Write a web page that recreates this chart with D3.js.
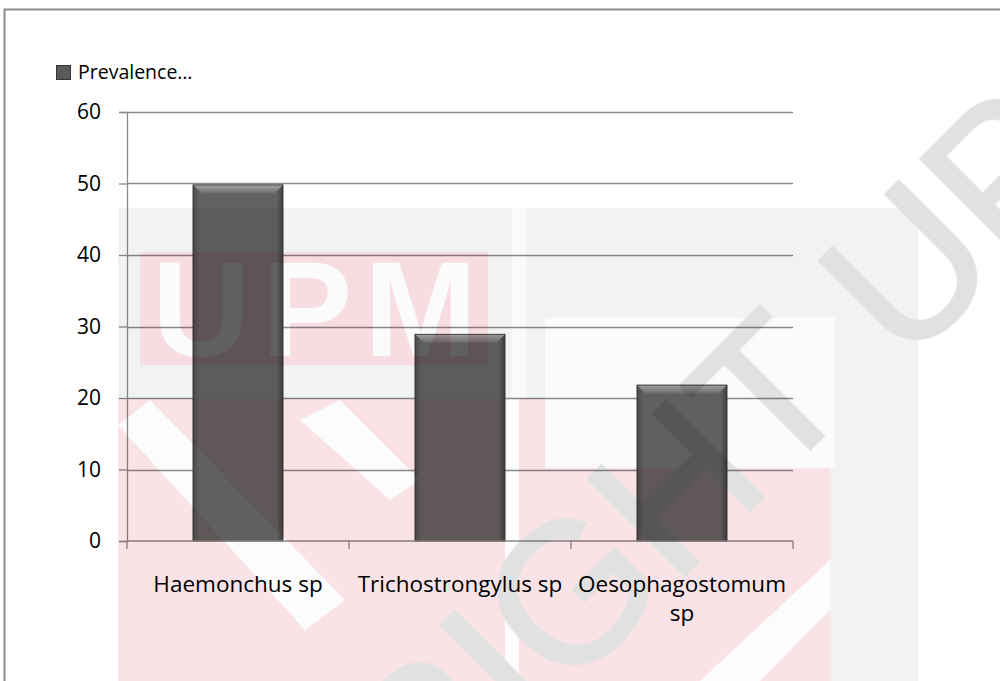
<!DOCTYPE html>
<html>
<head>
<meta charset="utf-8">
<script src="https://cdn.jsdelivr.net/npm/d3@7"></script>
<style>
  body { margin: 0; background: #fff; }
  svg text { font-family: "Open Sans", "Noto Sans", sans-serif; fill: #000; }
</style>
</head>
<body>
<svg width="1000" height="681"></svg>
<script>
// chart data
var categories = ["Haemonchus sp", "Trichostrongylus sp", "Oesophagostomum sp"];
var prevalence = [49.8, 28.9, 21.8];
var yTicks = [0, 10, 20, 30, 40, 50, 60];
var legendLabel = "Prevalence\u2026";

var svg = d3.select("svg");
var margin = {top: 112, right: 207, bottom: 140, left: 127};
var width = 1000 - margin.left - margin.right;   // 666
var height = 681 - margin.top - margin.bottom;   // 429

// outer frame (runs off the page on the right / bottom)
svg.append("rect")
    .attr("x", 4.5).attr("y", 9.5)
    .attr("width", 1100).attr("height", 800)
    .attr("fill", "none").attr("stroke", "#8c8c8c").attr("stroke-width", 2);

var defs = svg.append("defs");
var grad = defs.append("linearGradient").attr("id", "barFill")
    .attr("x1", 0).attr("x2", 1).attr("y1", 0).attr("y2", 0);
grad.append("stop").attr("offset", "0%").attr("stop-color", "#4c4c4c");
grad.append("stop").attr("offset", "7%").attr("stop-color", "#616161");
grad.append("stop").attr("offset", "93%").attr("stop-color", "#616161");
grad.append("stop").attr("offset", "100%").attr("stop-color", "#404040");
var bev = defs.append("linearGradient").attr("id", "bevel")
    .attr("x1", 0).attr("x2", 0).attr("y1", 0).attr("y2", 1);
bev.append("stop").attr("offset", "0%").attr("stop-color", "#a0a0a0");
bev.append("stop").attr("offset", "100%").attr("stop-color", "#6c6c6c");

var g = svg.append("g")
    .attr("transform", "translate(" + margin.left + "," + margin.top + ")");

var x = d3.scaleBand().domain(categories).range([0, width]).padding(0);
var y = d3.scaleLinear().domain([0, 60]).range([height, 0]);

// gridlines
g.selectAll(".grid")
    .data(yTicks.filter(function(d) { return d > 0; }))
    .enter().append("line")
    .attr("x1", 0).attr("x2", width)
    .attr("y1", function(d) { return Math.round(y(d)) + 0.5; })
    .attr("y2", function(d) { return Math.round(y(d)) + 0.5; })
    .attr("stroke", "#8a8a8a").attr("stroke-width", 1.3);

// bars
var barW = x.bandwidth() * 0.405;
function barX(d) { return x(d) + (x.bandwidth() - barW) / 2; }
var bars = g.selectAll(".bar").data(categories).enter().append("g").attr("class", "bar");
bars.append("rect")
    .attr("x", barX)
    .attr("y", function(d, i) { return y(prevalence[i]); })
    .attr("width", barW)
    .attr("height", function(d, i) { return height - y(prevalence[i]); })
    .attr("fill", "url(#barFill)")
    .attr("stroke", "#2e2e2e").attr("stroke-width", 1);
// bevel highlight on top
bars.append("path")
    .attr("d", function(d, i) {
        var x0 = barX(d) + 0.5, y0 = y(prevalence[i]) + 0.5, w = barW - 1;
        return "M" + x0 + "," + y0 + "L" + (x0 + w) + "," + y0 +
            "L" + (x0 + w - 8) + "," + (y0 + 8) + "L" + (x0 + 8) + "," + (y0 + 8) + "Z";
    })
    .attr("fill", "url(#bevel)");

// y axis
var yAxis = g.append("g")
    .call(d3.axisLeft(y).tickValues(yTicks).tickSize(8).tickPadding(18));
yAxis.select(".domain").attr("stroke", "#8a8a8a").attr("stroke-width", 1.3);
yAxis.selectAll(".tick line").attr("stroke", "#8a8a8a").attr("stroke-width", 1.3);
yAxis.selectAll("text").style("font-size", "21px").attr("fill", "#000");

// x axis: ticks on band edges
var xAxis = g.append("g").attr("transform", "translate(0," + height + ")");
xAxis.append("line").attr("x1", 0).attr("x2", width)
    .attr("stroke", "#8a8a8a").attr("stroke-width", 1.3);
xAxis.selectAll(".edge")
    .data(categories.concat(["end"]))
    .enter().append("line")
    .attr("x1", function(d) { return d === "end" ? width : x(d); })
    .attr("x2", function(d) { return d === "end" ? width : x(d); })
    .attr("y1", 0).attr("y2", 8)
    .attr("stroke", "#8a8a8a").attr("stroke-width", 1.3);

var xl = xAxis.selectAll(".xlabel").data(categories).enter().append("text")
    .attr("text-anchor", "middle")
    .style("font-size", "22.5px");
xl.each(function(d) {
    var t = d3.select(this);
    var parts = d === "Oesophagostomum sp" ? ["Oesophagostomum", "sp"] : [d];
    parts.forEach(function(p, k) {
        t.append("tspan")
            .attr("x", x(d) + x.bandwidth() / 2)
            .attr("y", 51 + k * 29)
            .text(p);
    });
});

// legend
svg.append("rect").attr("x", 56.5).attr("y", 65.5).attr("width", 14).attr("height", 14)
    .attr("fill", "#5a5a5a").attr("stroke", "#333");
svg.append("text").attr("x", 78).attr("y", 79)
    .style("font-size", "19.5px").text(legendLabel);

// scanned-page watermark laid over the chart
var wm = svg.append("g").style("mix-blend-mode", "multiply");
wm.append("rect").attr("x", 118).attr("y", 208).attr("width", 800).attr("height", 480)
    .attr("fill", "#f1f2f2");
wm.append("rect").attr("x", 512).attr("y", 208).attr("width", 14).attr("height", 480)
    .attr("fill", "#fafafa");
wm.append("rect").attr("x", 140).attr("y", 252).attr("width", 348).attr("height", 113)
    .attr("fill", "#f7dde1");
wm.append("text").attr("x", 152).attr("y", 356)
    .style("font-family", "Liberation Sans, sans-serif").style("font-weight", "bold")
    .style("font-size", "136px").style("fill", "#fbfbfb")
    .attr("textLength", 325).text("UPM");
wm.append("polygon")
    .attr("points", "118,398 830,398 830,681 118,681")
    .attr("fill", "#f9e3e6");
wm.append("rect").attr("x", 545).attr("y", 318).attr("width", 290).attr("height", 150)
    .attr("fill", "#fbfbfb");
wm.append("polygon")
    .attr("points", "118,425 150,400 345,600 305,630")
    .attr("fill", "#fcfcfc");
wm.append("polygon")
    .attr("points", "300,420 340,400 420,480 390,500")
    .attr("fill", "#fcfcfc");
wm.append("rect").attr("x", 505).attr("y", 398).attr("width", 14).attr("height", 283)
    .attr("fill", "#fcfcfc");
wm.append("polygon")
    .attr("points", "700,681 830,560 830,610 760,681")
    .attr("fill", "#fcfcfc");

var wmFont = { family: "Liberation Sans, sans-serif", size: "198px", color: "#e1e1e1" };
wm.append("text")
    .attr("transform", "translate(860,400) rotate(-45)")
    .attr("text-anchor", "end")
    .style("font-family", wmFont.family).style("font-size", wmFont.size)
    .style("fill", wmFont.color).style("stroke", wmFont.color).style("stroke-width", 3)
    .text("COPYRIGHT");
wm.append("text")
    .attr("transform", "translate(905,368) rotate(-45)")
    .style("font-family", wmFont.family).style("font-size", wmFont.size)
    .style("fill", wmFont.color).style("stroke", wmFont.color).style("stroke-width", 3)
    .text("UPM");
</script>
</body>
</html>
